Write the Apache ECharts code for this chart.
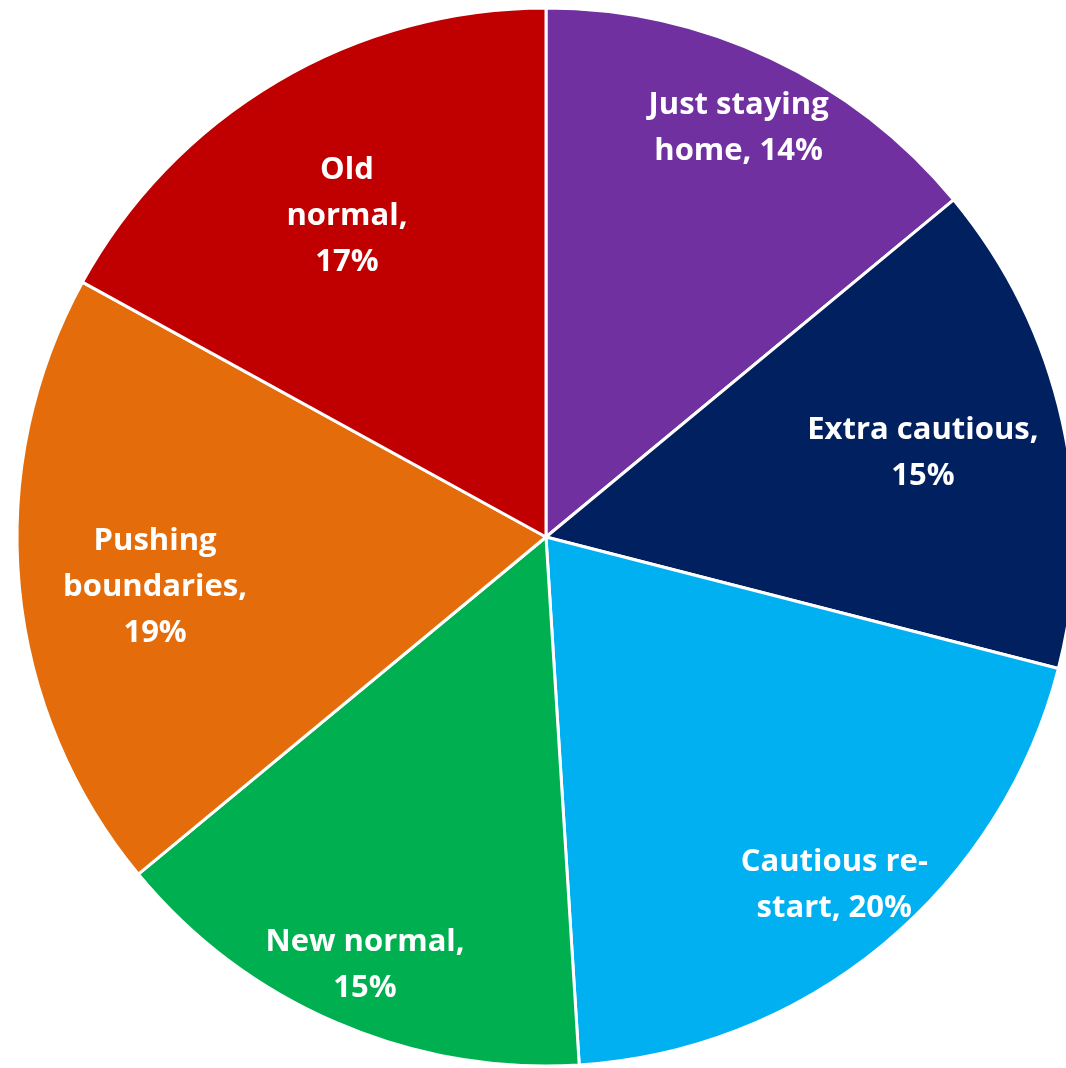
<!DOCTYPE html>
<html>
<head>
<meta charset="utf-8">
<title>Pie</title>
<script src="https://cdn.jsdelivr.net/npm/echarts@6/dist/echarts.min.js"></script>
<style>
  html, body { margin: 0; padding: 0; background: #ffffff; }
  #chart { width: 1066px; height: 1068px; }
</style>
</head>
<body>
<div id="chart"></div>
<script>
// Segments, clockwise from twelve o'clock
const categories = ['Just staying home', 'Extra cautious', 'Cautious re-start', 'New normal', 'Pushing boundaries', 'Old normal'];
const values = [14, 15, 20, 15, 19, 17];
const colors = ['#7030A0', '#002060', '#00B0F0', '#00B050', '#E46C0A', '#C00000'];
// Label text with line breaks; {v} is replaced by the segment value
const labelTemplates = [
  'Just staying\nhome, {v}',
  'Extra cautious,\n{v}',
  'Cautious re-\nstart, {v}',
  'New normal,\n{v}',
  'Pushing\nboundaries,\n{v}',
  'Old\nnormal,\n{v}'
];

// Geometry of the pie; each label sits at a fraction of the radius,
// turned slightly (degrees) off its segment's bisector
const CX = 546, CY = 537, R = 529;
const labelRadius = [0.855, 0.730, 0.855, 0.879, 0.745, 0.714];
const labelTurn = [0, 0, 0, -0.5, -1.9, -1.2];

const chart = echarts.init(document.getElementById('chart'), null, { renderer: 'canvas' });

chart.setOption({
  animation: false,
  backgroundColor: '#ffffff',
  series: [{
    type: 'pie',
    center: [CX, CY],
    radius: [0, R],
    startAngle: 90,
    clockwise: true,
    avoidLabelOverlap: false,
    itemStyle: { borderColor: '#ffffff', borderWidth: 3 },
    label: {
      show: true,
      position: 'inside',
      color: '#ffffff',
      fontFamily: 'Open Sans',
      fontWeight: 'bold',
      fontSize: 31,
      lineHeight: 46,
      align: 'center',
      verticalAlign: 'middle',
      formatter: p => labelTemplates[p.dataIndex].replace('{v}', p.value + '%')
    },
    labelLine: { show: false },
    // Move each inside label out along (roughly) its segment's bisector
    labelLayout: function (params) {
      const i = params.dataIndex;
      const r = params.labelRect;
      const lx = r.x + r.width / 2;
      const ly = r.y + r.height / 2;
      const a = Math.atan2(lx - CX, CY - ly) + labelTurn[i] * Math.PI / 180;
      const rr = labelRadius[i] * R;
      return {
        dx: CX + rr * Math.sin(a) - lx,
        dy: CY - rr * Math.cos(a) - ly
      };
    },
    emphasis: { disabled: true },
    data: categories.map((name, i) => ({
      name: name,
      value: values[i],
      itemStyle: { color: colors[i] }
    }))
  }]
});
</script>
</body>
</html>
